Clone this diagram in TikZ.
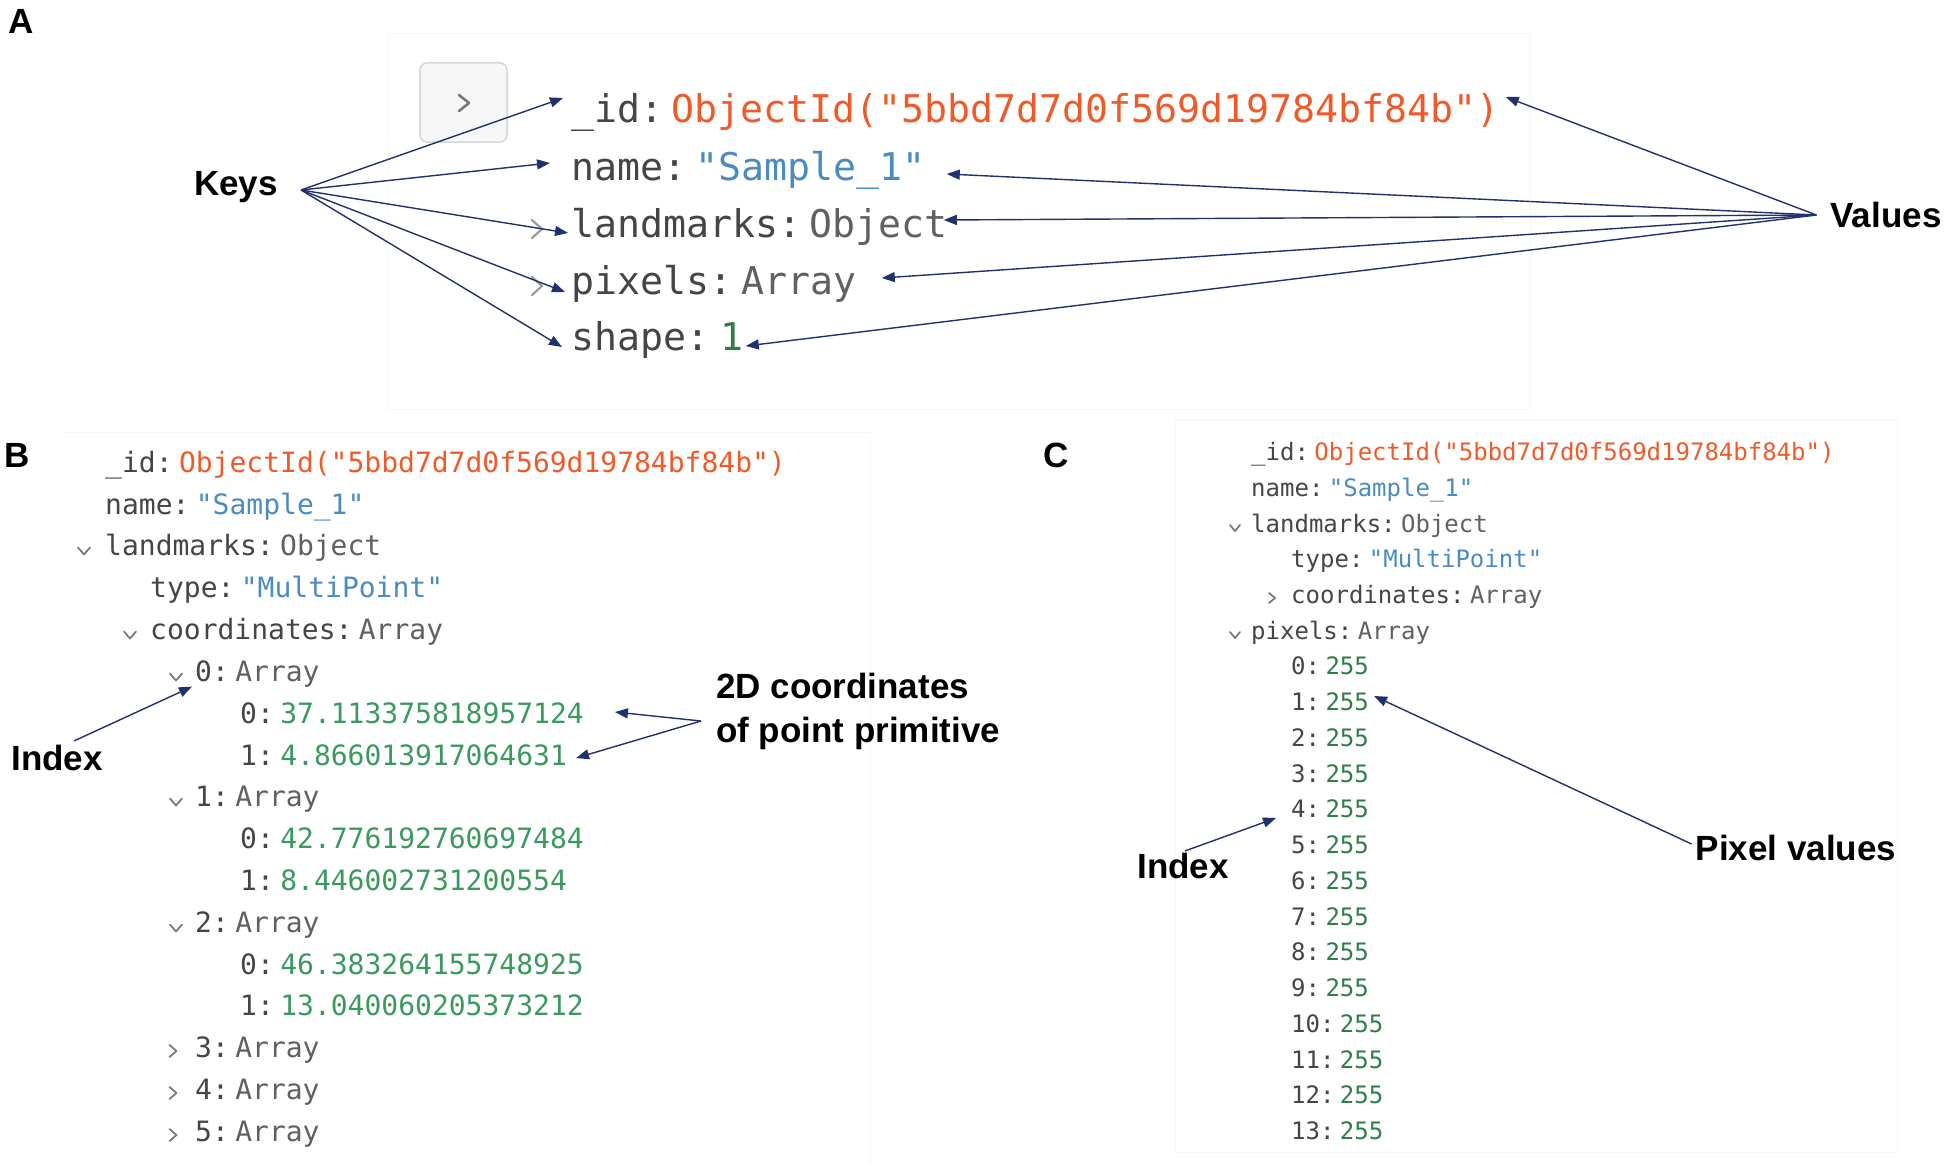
\documentclass[tikz,border=0pt]{standalone}
\usepackage{fontspec}
\usepackage{tikz}
\usetikzlibrary{arrows.meta,positioning}
\newfontfamily\codefont{DejaVu Sans Mono}
\newfontfamily\lblfont{Liberation Sans}
\definecolor{keygray}{HTML}{454545}
\definecolor{typegray}{HTML}{606060}
\definecolor{oidred}{HTML}{F05A28}
\definecolor{strblue}{HTML}{4A8BC2}
\definecolor{numgreen}{HTML}{3A9A5E}
\definecolor{intgreen}{HTML}{2F7D48}
\definecolor{arrnavy}{HTML}{22306E}
\definecolor{chevgray}{HTML}{7A7A7A}
\tikzset{
  lbl/.style={inner sep=0pt, font=\lblfont\bfseries\fontsize{35}{44}\selectfont},
  codeA/.style={inner sep=0pt, anchor=west, text height=30.5pt, text depth=6pt,
    font=\codefont\fontsize{38.2}{40}\selectfont},
  codeB/.style={inner sep=0pt, anchor=west, text height=22.4pt, text depth=4.5pt,
    font=\codefont\fontsize{28}{30}\selectfont},
  codeC/.style={inner sep=0pt, anchor=west, text height=19.2pt, text depth=3.8pt,
    font=\codefont\fontsize{24}{26}\selectfont},
  arr/.style={draw=arrnavy, line width=1.4pt, -{Triangle[length=13pt,width=10pt]}},
  chev/.style={draw=chevgray, line width=1.8pt, line cap=round, line join=round},
  frame/.style={draw=black!3, line width=1pt},
  button/.style={draw=black!16, fill=black!3, rounded corners=7pt, line width=1.5pt}
}
\newcommand{\chevdown}[4]{\draw[chev] (#1-#3,#2-#4) -- (#1,#2+#4) -- (#1+#3,#2-#4);}
\newcommand{\chevright}[4]{\draw[chev] (#1-#3,#2-#4) -- (#1+#3,#2) -- (#1-#3,#2+#4);}

\begin{document}
\begin{tikzpicture}[x=1pt,y=-1pt]
			%%%%% START %%%%%
			\useasboundingbox (0,0) rectangle (1946,1164);
			
			\draw[frame] (388,34) rectangle (1530,409);
			\draw[frame] (63,432) -- (870,432) -- (870,1164);
			\draw[frame] (1175,420) rectangle (1897,1152);
			
			\node[lbl] (pa) at (21,21) {A};
			\node[lbl] (pb) at (17,455) {B};
			\node[lbl] (pc) at (1056,455) {C};
			
			%%%%% A %%%%%
			\draw[button] (420,63) rectangle (507,142);
			\begin{scope}[chev/.append style={line width=2.6pt}]
				\chevright{464}{103}{5}{8}
			\end{scope}
			\begin{scope}[chev/.append style={draw=chevgray!75, line width=2.2pt}]
				\chevright{537}{229}{5}{9}
				\chevright{537}{286}{5}{9}
			\end{scope}
			
			\node[codeA, text=keygray] (kaid) at (571,110) {\_id:};
			\node[codeA, text=oidred, right=8pt of kaid] (vaid) {ObjectId("5bbd7d7d0f569d19784bf84b")};
			\node[codeA, text=keygray] (kaname) at (571,168) {name:};
			\node[codeA, text=strblue, right=9pt of kaname] (vaname) {"Sample\_1"};
			\node[codeA, text=keygray] (kalm) at (571,225) {landmarks:};
			\node[codeA, text=typegray, right=8pt of kalm] (valm) {Object};
			\node[codeA, text=keygray] (kapx) at (571,282) {pixels:};
			\node[codeA, text=typegray, right=9pt of kapx] (vapx) {Array};
			\node[codeA, text=keygray] (kash) at (571,338) {shape:};
			\node[codeA, text=intgreen, right=11pt of kash] (vash) {1};
			
			\node[lbl] (keys) at (236,187) {Keys};
			\node[lbl] (vals) at (1886,215) {Values};
			\coordinate (keysout) at ([xshift=23pt,yshift=-3pt]keys.east);
			\coordinate (valsout) at ([xshift=-14pt]vals.west);
			
			\draw[arr] (keysout) -- ([xshift=-8pt,yshift=12pt]kaid.west);
			\draw[arr] (keysout) -- ([xshift=-21pt,yshift=5pt]kaname.west);
			\draw[arr] (keysout) -- ([xshift=-3pt,yshift=-8pt]kalm.west);
			\draw[arr] (keysout) -- ([xshift=-6pt,yshift=-10pt]kapx.west);
			\draw[arr] (keysout) -- ([xshift=-9pt,yshift=-9pt]kash.west);
			\draw[arr] (valsout) -- ([xshift=6pt,yshift=13pt]vaid.east);
			\draw[arr] (valsout) -- ([xshift=21pt,yshift=-6pt]vaname.east);
			\draw[arr] (valsout) -- ([xshift=-4pt,yshift=5pt]valm.east);
			\draw[arr] (valsout) -- ([xshift=25pt,yshift=4pt]vapx.east);
			\draw[arr] (valsout) -- ([xshift=2pt,yshift=-8pt]vash.east);
			
			%%%%% B %%%%%
			\node[codeB, text=keygray] (bkid) at (105,464) {\_id:};
			\node[codeB, text=oidred, right=6pt of bkid] (bvid) {ObjectId("5bbd7d7d0f569d19784bf84b")};
			\node[codeB, text=keygray] (bkname) at (105,506) {name:};
			\node[codeB, text=strblue, right=6pt of bkname] (bvname) {"Sample\_1"};
			\chevdown{84}{551}{6}{3.5}
			\node[codeB, text=keygray] (bklm) at (105,547) {landmarks:};
			\node[codeB, text=typegray, right=6pt of bklm] (bvlm) {Object};
			\node[codeB, text=keygray] (bktype) at (150,589) {type:};
			\node[codeB, text=strblue, right=6pt of bktype] (bvtype) {"MultiPoint"};
			\chevdown{130}{635}{6}{3.5}
			\node[codeB, text=keygray] (bkco) at (150,631) {coordinates:};
			\node[codeB, text=typegray, right=6pt of bkco] (bvco) {Array};
			
			\chevdown{176}{677}{6}{3.5}
			\node[codeB, text=keygray] (bk0) at (195,673) {0:};
			\node[codeB, text=typegray, right=6pt of bk0] (bv0) {Array};
			\node[codeB, text=keygray] (bk00) at (240,715) {0:};
			\node[codeB, text=numgreen, right=6pt of bk00] (bv00) {37.113375818957124};
			\node[codeB, text=keygray] (bk01) at (240,757) {1:};
			\node[codeB, text=numgreen, right=6pt of bk01] (bv01) {4.866013917064631};
			
			\chevdown{176}{802}{6}{3.5}
			\node[codeB, text=keygray] (bk1) at (195,798) {1:};
			\node[codeB, text=typegray, right=6pt of bk1] (bv1) {Array};
			\node[codeB, text=keygray] (bk10) at (240,840) {0:};
			\node[codeB, text=numgreen, right=6pt of bk10] (bv10) {42.776192760697484};
			\node[codeB, text=keygray] (bk11) at (240,882) {1:};
			\node[codeB, text=numgreen, right=6pt of bk11] (bv11) {8.446002731200554};
			
			\chevdown{176}{928}{6}{3.5}
			\node[codeB, text=keygray] (bk2) at (195,924) {2:};
			\node[codeB, text=typegray, right=6pt of bk2] (bv2) {Array};
			\node[codeB, text=keygray] (bk20) at (240,966) {0:};
			\node[codeB, text=numgreen, right=6pt of bk20] (bv20) {46.383264155748925};
			\node[codeB, text=keygray] (bk21) at (240,1007) {1:};
			\node[codeB, text=numgreen, right=6pt of bk21] (bv21) {13.040060205373212};
			
			\chevright{173}{1051}{3.5}{6}
			\node[codeB, text=keygray] (bk3) at (195,1049) {3:};
			\node[codeB, text=typegray, right=6pt of bk3] (bv3) {Array};
			\chevright{173}{1093}{3.5}{6}
			\node[codeB, text=keygray] (bk4) at (195,1091) {4:};
			\node[codeB, text=typegray, right=6pt of bk4] (bv4) {Array};
			\chevright{173}{1135}{3.5}{6}
			\node[codeB, text=keygray] (bk5) at (195,1133) {5:};
			\node[codeB, text=typegray, right=6pt of bk5] (bv5) {Array};
			
			\node[lbl] (idxb) at (57,758) {Index};
			\coordinate (idxbout) at ([xshift=17pt,yshift=4pt]idxb.north);
			\draw[arr] (idxbout) -- ([xshift=-3pt]bk0.south west);
			
			\node[lbl, align=left, anchor=west] (coordlbl) at (716,711) {2D coordinates\\of point primitive};
			\coordinate (coordout) at ([xshift=-15pt,yshift=-10pt]coordlbl.west);
			\draw[arr] (coordout) -- ([xshift=31pt,yshift=3pt]bv00.east);
			\draw[arr] (coordout) -- ([xshift=9pt,yshift=-1pt]bv01.east);
			
			%%%%% C %%%%%
			\node[codeC, text=keygray] (ckid) at (1251,453) {\_id:};
			\node[codeC, text=oidred, right=5pt of ckid] (cvid) {ObjectId("5bbd7d7d0f569d19784bf84b")};
			\node[codeC, text=keygray] (ckname) at (1251,489) {name:};
			\node[codeC, text=strblue, right=5pt of ckname] (cvname) {"Sample\_1"};
			\chevdown{1235}{528}{5}{3}
			\node[codeC, text=keygray] (cklm) at (1251,525) {landmarks:};
			\node[codeC, text=typegray, right=5pt of cklm] (cvlm) {Object};
			\node[codeC, text=keygray] (cktype) at (1291,560) {type:};
			\node[codeC, text=strblue, right=5pt of cktype] (cvtype) {"MultiPoint"};
			\chevright{1272}{598}{3}{5}
			\node[codeC, text=keygray] (ckco) at (1291,596) {coordinates:};
			\node[codeC, text=typegray, right=5pt of ckco] (cvco) {Array};
			\chevdown{1235}{635}{5}{3}
			\node[codeC, text=keygray] (ckpx) at (1251,632) {pixels:};
			\node[codeC, text=typegray, right=5pt of ckpx] (cvpx) {Array};
			
			\node[codeC, text=keygray] (ck0) at (1291,667) {0:};
			\node[codeC, text=intgreen, right=5pt of ck0] (cv0) {255};
			\node[codeC, text=keygray] (ck1) at (1291,703) {1:};
			\node[codeC, text=intgreen, right=5pt of ck1] (cv1) {255};
			\node[codeC, text=keygray] (ck2) at (1291,739) {2:};
			\node[codeC, text=intgreen, right=5pt of ck2] (cv2) {255};
			\node[codeC, text=keygray] (ck3) at (1291,775) {3:};
			\node[codeC, text=intgreen, right=5pt of ck3] (cv3) {255};
			\node[codeC, text=keygray] (ck4) at (1291,810) {4:};
			\node[codeC, text=intgreen, right=5pt of ck4] (cv4) {255};
			\node[codeC, text=keygray] (ck5) at (1291,846) {5:};
			\node[codeC, text=intgreen, right=5pt of ck5] (cv5) {255};
			\node[codeC, text=keygray] (ck6) at (1291,882) {6:};
			\node[codeC, text=intgreen, right=5pt of ck6] (cv6) {255};
			\node[codeC, text=keygray] (ck7) at (1291,918) {7:};
			\node[codeC, text=intgreen, right=5pt of ck7] (cv7) {255};
			\node[codeC, text=keygray] (ck8) at (1291,953) {8:};
			\node[codeC, text=intgreen, right=5pt of ck8] (cv8) {255};
			\node[codeC, text=keygray] (ck9) at (1291,989) {9:};
			\node[codeC, text=intgreen, right=5pt of ck9] (cv9) {255};
			\node[codeC, text=keygray] (ck10) at (1291,1025) {10:};
			\node[codeC, text=intgreen, right=5pt of ck10] (cv10) {255};
			\node[codeC, text=keygray] (ck11) at (1291,1061) {11:};
			\node[codeC, text=intgreen, right=5pt of ck11] (cv11) {255};
			\node[codeC, text=keygray] (ck12) at (1291,1096) {12:};
			\node[codeC, text=intgreen, right=5pt of ck12] (cv12) {255};
			\node[codeC, text=keygray] (ck13) at (1291,1132) {13:};
			\node[codeC, text=intgreen, right=5pt of ck13] (cv13) {255};
			
			\node[lbl] (idxc) at (1183,866) {Index};
			\coordinate (idxcout) at ([xshift=2pt,yshift=2pt]idxc.north);
			\draw[arr] (idxcout) -- ([xshift=-15pt,yshift=-8pt]ck4.west);
			
			\node[lbl] (pixlbl) at (1796,848) {Pixel values};
			\coordinate (pixout) at ([xshift=-4pt,yshift=4pt]pixlbl.west);
			\draw[arr] (pixout) -- ([xshift=5pt,yshift=7pt]cv1.east);
			
			%%%%% END %%%%%
\end{tikzpicture}
\end{document}
